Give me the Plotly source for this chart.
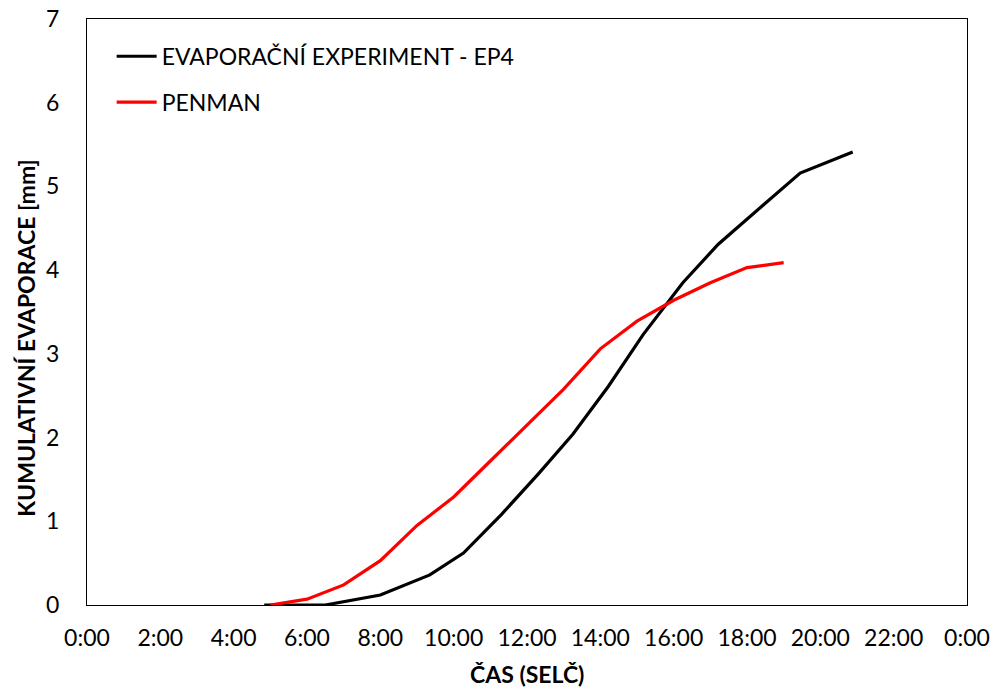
import plotly.graph_objects as go

# Evaporation experiment EP4 – measured cumulative evaporation
exp_times = ["4:50", "6:30", "8:00", "9:21", "10:16", "11:18", "12:19", "13:15",
             "14:13", "15:10", "16:15", "17:13", "19:27", "20:53"]
exp_values = [0.0, 0.0, 0.12, 0.36, 0.62, 1.08, 1.57, 2.04,
              2.61, 3.23, 3.85, 4.31, 5.16, 5.41]

# Penman estimate, hourly
pen_times = ["5:00", "6:00", "7:00", "8:00", "9:00", "10:00", "11:00", "12:00",
             "13:00", "14:00", "15:00", "16:00", "17:00", "18:00", "19:00"]
pen_values = [0.0, 0.07, 0.24, 0.53, 0.95, 1.29, 1.72, 2.15,
              2.58, 3.06, 3.39, 3.64, 3.85, 4.03, 4.09]

x_tick_hours = list(range(0, 25, 2))
x_tick_labels = ["0:00", "2:00", "4:00", "6:00", "8:00", "10:00", "12:00",
                 "14:00", "16:00", "18:00", "20:00", "22:00", "0:00"]
y_ticks = list(range(0, 8))


def to_hours(t):
    h, m = t.split(":")
    return int(h) + int(m) / 60.0


FONT = "Lato"
FS = 23

fig = go.Figure()
fig.add_trace(go.Scatter(
    x=[to_hours(t) for t in exp_times], y=exp_values, mode="lines",
    name="EVAPORAČNÍ EXPERIMENT - EP4",
    line=dict(color="#000000", width=3.2),
    legendgroup="a",
))
fig.add_trace(go.Scatter(
    x=[to_hours(t) for t in pen_times], y=pen_values, mode="lines",
    name="PENMAN",
    line=dict(color="#ff0000", width=3.2),
    legendgroup="b",
))

fig.update_layout(
    width=993, height=691,
    margin=dict(l=87, r=26, t=19, b=86),
    paper_bgcolor="white", plot_bgcolor="white",
    font=dict(family=FONT, size=FS, color="#000000"),
    showlegend=True,
    legend=dict(
        x=0.028, y=0.973, xanchor="left", yanchor="top",
        bgcolor="rgba(0,0,0,0)", font=dict(family=FONT, size=FS),
        tracegroupgap=13, itemwidth=40,
    ),
    xaxis=dict(
        range=[0, 24], tickvals=x_tick_hours, ticktext=x_tick_labels,
        showgrid=False, zeroline=False, automargin=False,
        showline=True, mirror=True, linecolor="#000000", linewidth=1,
        ticks="", ticklabelstandoff=12,
        tickfont=dict(family=FONT, size=FS),
    ),
    yaxis=dict(
        range=[0, 7], tickvals=y_ticks, automargin=False,
        showgrid=False, zeroline=False,
        showline=True, mirror=True, linecolor="#000000", linewidth=1,
        ticks="", ticklabelstandoff=22,
        tickfont=dict(family=FONT, size=FS),
    ),
    annotations=[
        dict(text="<b>ČAS (SELČ)</b>", xref="paper", yref="paper",
             x=0.5, y=-0.117, xanchor="center", yanchor="middle",
             showarrow=False, font=dict(family=FONT, size=FS)),
        dict(text="<b>KUMULATIVNÍ EVAPORACE [mm]</b>", xref="paper", yref="paper",
             x=-0.069, y=0.455, xanchor="center", yanchor="middle", textangle=-90,
             showarrow=False, font=dict(family=FONT, size=FS)),
    ],
)

fig.write_html("out.html")
